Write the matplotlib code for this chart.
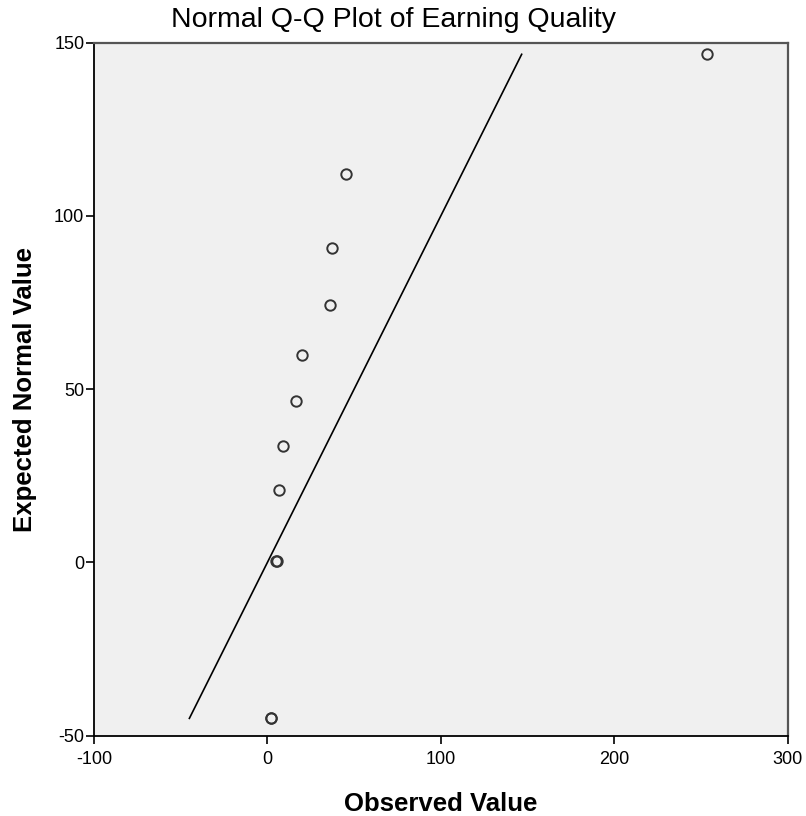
from matplotlib import pyplot as plt
import numpy as np

# values (ties drawn twice, as in the original)
observed = [253.5, 45.4, 37.2, 36.2, 20.2, 16.2, 9.2, 6.9, 5.4, 5.0, 2.1, 1.8]
expected = [146.6, 112.0, 90.8, 74.3, 59.8, 46.6, 33.7, 20.9, 0.5, 0.5, -45.0, -45.0]

x_ticks = [-100, 0, 100, 200, 300]
y_ticks = [-50, 0, 50, 100, 150]

plt.rcParams["font.family"] = ["Liberation Sans", "DejaVu Sans"]
plt.rcParams["axes.unicode_minus"] = False

fig = plt.figure(figsize=(8.06, 8.16), dpi=100)
ax = fig.add_axes([0.1166, 0.0984, 0.8607, 0.8495])
ax.set_facecolor("#f0f0f0")

# reference line y = x across the range of expected values
lo, hi = min(expected), max(expected)
ax.plot([lo, hi], [lo, hi], color="black", lw=1.2)

ax.plot(observed, expected, linestyle="none", marker="o", markersize=7.5,
        markerfacecolor="none", markeredgecolor="#333333", markeredgewidth=1.4)

ax.set_xlim(-100, 300)
ax.set_ylim(-50, 150)
ax.set_xticks(x_ticks)
ax.set_yticks(y_ticks)
ax.tick_params(axis="both", direction="out", length=6, width=1.2,
               labelsize=13, color="black")
ax.tick_params(axis="x", pad=5)
ax.tick_params(axis="y", pad=1)

for side in ("left", "bottom"):
    ax.spines[side].set_color("black")
    ax.spines[side].set_linewidth(1.3)
for side in ("top", "right"):
    ax.spines[side].set_color("#555555")
    ax.spines[side].set_linewidth(1.6)

ax.set_xlabel("Observed Value", fontsize=18.5, fontweight="bold", labelpad=17)
ax.set_ylabel("Expected Normal Value", fontsize=18.5, fontweight="bold", labelpad=12)
fig.suptitle("Normal Q-Q Plot of Earning Quality", x=0.488, y=0.992,
             fontsize=20.5, va="top")

fig.savefig("out.png", dpi=100)
